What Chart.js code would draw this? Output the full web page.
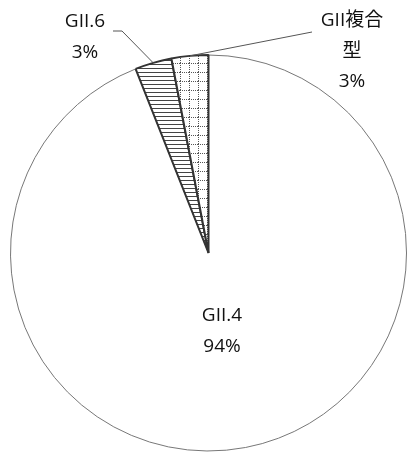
<!DOCTYPE html>
<html>
<head>
<meta charset="utf-8">
<script src="https://cdn.jsdelivr.net/npm/chart.js@4.4.1/dist/chart.umd.min.js"></script>
<style>
  html, body { margin: 0; padding: 0; background: #fff; }
  #wrap { width: 407px; height: 452px; }
</style>
</head>
<body>
<div id="wrap"><canvas id="genotypeChart"></canvas></div>
<script>
const labels = ['GII.4', 'GII.6', 'GII複合型'];
const shares = [94, 3, 3];

const FONT = '"Open Sans", "Noto Sans CJK JP", sans-serif';

// horizontal hatch fill
function hatchPattern(ctx) {
  const c = document.createElement('canvas');
  c.width = 4; c.height = 4;
  const g = c.getContext('2d');
  g.fillStyle = '#fff';
  g.fillRect(0, 0, 4, 4);
  g.fillStyle = '#444';
  g.fillRect(0, 0, 4, 1);
  return ctx.createPattern(c, 'repeat');
}

// dotted grid fill
function dotGridPattern(ctx) {
  const c = document.createElement('canvas');
  c.width = 9; c.height = 9;
  const g = c.getContext('2d');
  g.fillStyle = '#fff';
  g.fillRect(0, 0, 9, 9);
  g.fillStyle = '#555';
  for (let i = 0; i < 9; i += 2) {
    g.fillRect(i, 0, 1, 1);
    g.fillRect(0, i, 1, 1);
  }
  return ctx.createPattern(c, 'repeat');
}

// text lines + leader lines for each slice
const labelLayout = [
  { lines: ['GII.4', '94%'], x: 222, y: 316, leader: null },
  { lines: ['GII.6', '3%'], x: 85, y: 22, leader: [[122, 31], [113, 31]] },
  { lines: ['GII複合', '型', '3%'], x: 352, y: 21, leader: [[312, 32]] }
];

const sliceLabels = {
  id: 'sliceLabels',
  afterDatasetsDraw(chart) {
    const ctx = chart.ctx;
    const arcs = chart.getDatasetMeta(0).data;
    ctx.save();
    ctx.strokeStyle = '#555';
    ctx.lineWidth = 1;
    labelLayout.forEach((lab, i) => {
      if (lab.leader) {
        const a = arcs[i];
        const mid = (a.startAngle + a.endAngle) / 2;
        ctx.beginPath();
        ctx.moveTo(a.x + Math.cos(mid) * a.outerRadius, a.y + Math.sin(mid) * a.outerRadius);
        lab.leader.forEach(p => ctx.lineTo(p[0], p[1]));
        ctx.stroke();
      }
      ctx.fillStyle = '#111';
      ctx.font = '19px ' + FONT;
      ctx.textAlign = 'center';
      ctx.textBaseline = 'middle';
      lab.lines.forEach((t, k) => ctx.fillText(t, lab.x, lab.y + k * 30.5));
    });
    ctx.restore();
  }
};

const canvas = document.getElementById('genotypeChart');
const c2d = canvas.getContext('2d');

new Chart(canvas, {
  type: 'pie',
  data: {
    labels: labels,
    datasets: [{
      data: shares,
      backgroundColor: ['#fff', hatchPattern(c2d), dotGridPattern(c2d)],
      borderColor: ['#777', '#333', '#333'],
      borderWidth: [1, 2, 2]
    }]
  },
  options: {
    responsive: true,
    maintainAspectRatio: false,
    animation: false,
    radius: 198,
    layout: { padding: { left: 10, right: 0, top: 54, bottom: 0 } },
    plugins: {
      legend: { display: false },
      tooltip: { enabled: false }
    }
  },
  plugins: [sliceLabels]
});
</script>
</body>
</html>
